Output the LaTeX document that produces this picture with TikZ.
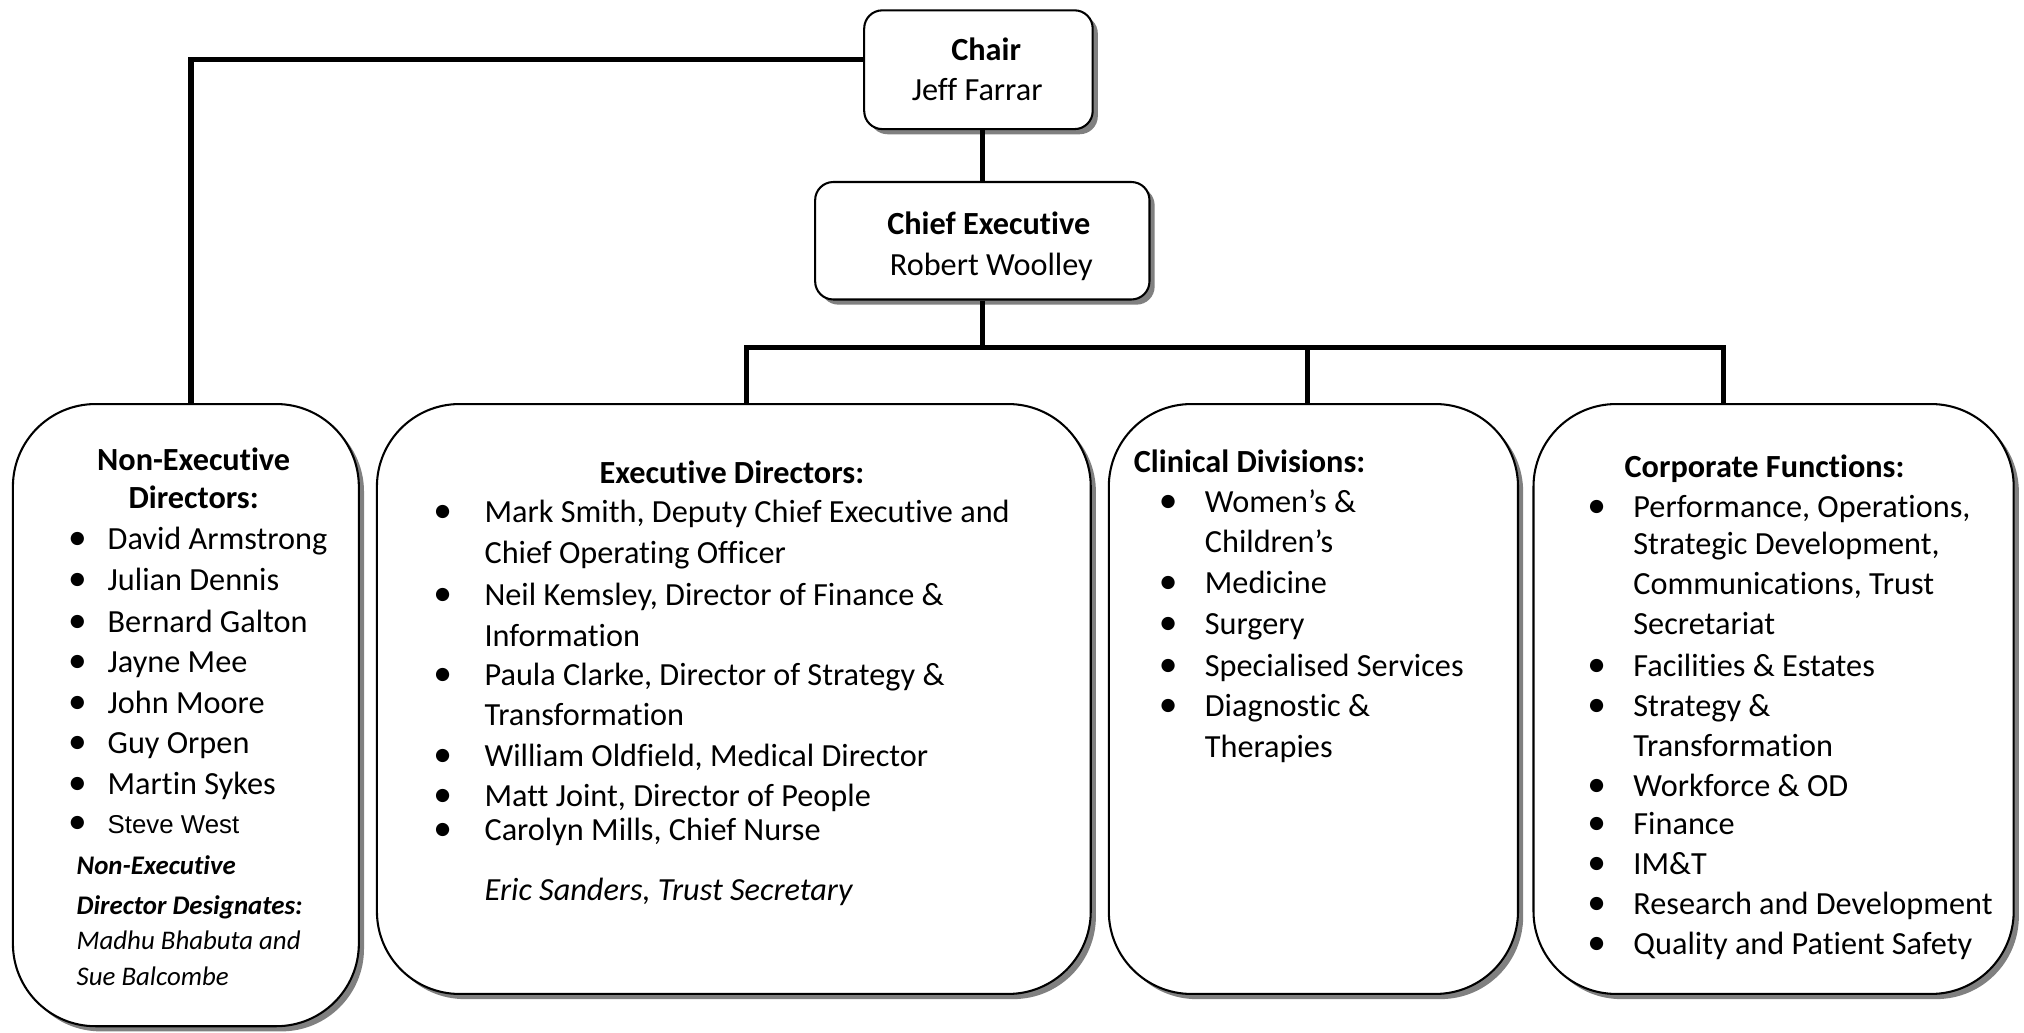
\documentclass[tikz,border=0pt]{standalone}
\usepackage{fontspec}
\setmainfont{Carlito}[Ligatures={NoCommon}]
\newfontfamily\arialfont{Liberation Sans}
\usetikzlibrary{shadows}

\newcommand\orgsize{\fontsize{12.5}{15}\selectfont}
\newcommand\desigsize{\fontsize{10.4}{12}\selectfont}

\tikzset{
  orgbox/.style={draw, line width=0.8pt, fill=white, inner sep=0pt,
    drop shadow={shadow xshift=2pt, shadow yshift=-2pt, fill=black!50, opacity=1}},
  bigbox/.style={orgbox, rounded corners=32pt},
  smallbox/.style={orgbox, rounded corners=7pt},
  conn/.style={line width=2pt},
  txt/.style={anchor=mid west, inner sep=0pt, yshift=-2pt},
  bul/.style={anchor=mid, inner sep=0pt, yshift=-2pt, font=\fontsize{14.5}{15}\selectfont},
  ttl/.style={anchor=mid, inner sep=0pt, yshift=-2pt, font=\orgsize\bfseries}
}

\begin{document}
\begin{tikzpicture}[x=0.5pt, y=-0.5pt, font=\orgsize]
\useasboundingbox (0,0) rectangle (1568,800);

% boxes
\node[smallbox, minimum width=88.5pt, minimum height=46pt] (chair) at (758,54) {};
\node[smallbox, minimum width=129.5pt, minimum height=45.5pt] (ce) at (761,186.5) {};
\node[bigbox, minimum width=134pt, minimum height=241pt] (ned) at (144,554) {};
\node[bigbox, minimum width=276.5pt, minimum height=228.5pt] (exec) at (568.5,541.5) {};
\node[bigbox, minimum width=158.5pt, minimum height=228.5pt] (clin) at (1017.5,541.5) {};
\node[bigbox, minimum width=186pt, minimum height=228.5pt] (corp) at (1374,541.5) {};

% connectors
\coordinate (b1) at (578,269);
\coordinate (b2) at (1013,269);
\coordinate (b3) at (1335,269);
\draw[conn] ([yshift=4pt]chair.west) -| ([xshift=2pt]ned.north);
\draw[conn] (chair.south -| ce.north) -- (ce.north);
\draw[conn] (ce.south) -- (ce.south |- b1);
\draw[conn] (exec.north -| b1) -- (b1) -- (b3) -- (corp.north -| b3);
\draw[conn] (b2) -- (clin.north -| b2);

% chair and chief executive
\node[ttl] (chairT) at (764,38) {Chair};
\node[anchor=mid, inner sep=0pt, yshift=-2pt] (chairN) at (757,69) {Jeff Farrar};
\node[ttl] (ceT) at (766,173) {Chief Executive};
\node[anchor=mid, inner sep=0pt, yshift=-2pt] (ceN) at (768,205) {Robert Woolley};

% non-executive directors
\node[ttl] (nedT1) at (150,356) {Non-Executive};
\node[ttl] (nedT2) at (150,385) {Directors:};
\foreach \y/\t [count=\i] in {417/David Armstrong, 449/Julian Dennis, 481/Bernard Galton,
    512/Jayne Mee, 544/John Moore, 575/Guy Orpen, 607/Martin Sykes} {
  \node[bul] (nedB\i) at (60,\y) {\textbullet};
  \node[txt] (ned\i) at (83,\y) {\t};
}
\node[bul] (nedB8) at (60,637) {\textbullet};
\node[txt, font=\arialfont\fontsize{10}{12}\selectfont] (ned8) at (83,637) {Steve West};
\node[txt, font=\desigsize\bfseries\itshape] (nedD1) at (59,669) {Non-Executive};
\node[txt, font=\desigsize\bfseries\itshape] (nedD2) at (59,700) {Director Designates:};
\node[txt, font=\desigsize\itshape] (nedD3) at (59,727) {Madhu Bhabuta and};
\node[txt, font=\desigsize\itshape] (nedD4) at (59,755) {Sue Balcombe};

% executive directors
\node[ttl] (execT) at (567,366) {Executive Directors:};
\foreach \y [count=\i] in {396,460,522,585,616,642}
  \node[bul] (execB\i) at (343,\y) {\textbullet};
\foreach \y/\t [count=\i] in {396/{Mark Smith, Deputy Chief Executive and},
    428/Chief Operating Officer, 460/{Neil Kemsley, Director of Finance \&},
    492/Information, 522/{Paula Clarke, Director of Strategy \&},
    553/Transformation, 585/{William Oldfield, Medical Director},
    616/{Matt Joint, Director of People}, 642/{Carolyn Mills, Chief Nurse}}
  \node[txt] (exec\i) at (375,\y) {\t};
\node[txt, font=\orgsize\itshape] (execS) at (375,689) {Eric Sanders, Trust Secretary};

% clinical divisions
\node[ttl, anchor=mid west] (clinT) at (878,357) {Clinical Divisions:};
\foreach \y [count=\i] in {388,451,483,515,546}
  \node[bul] (clinB\i) at (905,\y) {\textbullet};
\foreach \y/\t [count=\i] in {388/Women’s \&, 419/Children’s, 451/Medicine,
    483/Surgery, 515/Specialised Services, 546/Diagnostic \&, 578/Therapies}
  \node[txt] (clin\i) at (933,\y) {\t};

% corporate functions
\node[ttl] (corpT) at (1367,361) {Corporate Functions:};
\foreach \y [count=\i] in {392,515,546,608,638,669,700,731}
  \node[bul] (corpB\i) at (1237,\y) {\textbullet};
\foreach \y/\t [count=\i] in {392/{Performance, Operations,}, 421/{Strategic Development,},
    452/{Communications, Trust}, 483/Secretariat, 515/Facilities \& Estates,
    546/Strategy \&, 577/Transformation, 608/Workforce \& OD, 638/Finance,
    669/IM\&T, 700/Research and Development, 731/Quality and Patient Safety}
  \node[txt] (corp\i) at (1265,\y) {\t};
\end{tikzpicture}
\end{document}
